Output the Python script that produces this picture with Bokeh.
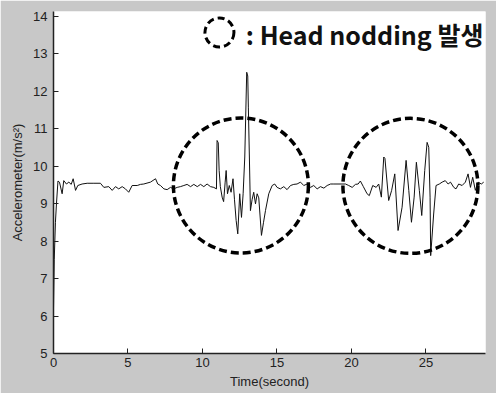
from bokeh.plotting import figure
from bokeh.models import Range1d, FixedTicker
from bokeh.core.properties import value
from bokeh.embed import file_html
from bokeh.resources import INLINE

# ---- data ----
time_s = [0.00, 0.05, 0.13, 0.20, 0.30, 0.40, 0.58, 0.69, 0.87, 1.03, 1.19, 1.32, 1.48, 1.63,
          1.92, 2.26, 2.71, 3.15, 3.38, 3.71, 3.94, 4.16, 4.38, 4.61, 4.83, 5.05, 5.28, 5.62,
          5.84, 6.06, 6.51, 6.85, 7.00, 7.18, 7.41, 7.63, 7.85, 8.07, 8.30, 8.52, 8.75, 8.97,
          9.20, 9.42, 9.65, 9.87, 10.09, 10.31, 10.54, 10.76, 10.94,
          10.98, 11.06, 11.12, 11.20, 11.32, 11.42, 11.52, 11.59, 11.68, 11.80, 11.92, 12.05,
          12.15, 12.26, 12.37, 12.50, 12.62, 12.73, 12.84, 12.97, 13.04, 13.08, 13.15, 13.22,
          13.33, 13.44, 13.56, 13.67, 13.78, 13.96, 14.10, 14.23, 14.45, 14.68,
          14.85, 15.01, 15.23, 15.46, 15.68, 15.91, 16.13, 16.35, 16.58, 16.80, 17.03, 17.25,
          17.47, 17.70, 17.92, 18.15, 18.37, 18.60, 18.82, 19.60, 19.82, 20.05, 20.27,
          20.45, 20.60, 20.80, 21.05, 21.20, 21.43, 21.66, 21.83, 22.01, 22.17, 22.25, 22.50,
          22.70, 22.91, 23.13, 23.40, 23.67, 23.85, 24.03, 24.21, 24.36, 24.56, 24.72, 24.92,
          25.08, 25.19, 25.28, 25.32, 25.52, 25.68, 25.90, 26.09, 26.30, 26.49, 26.65, 26.87,
          27.02, 27.20, 27.43, 27.65, 27.83, 27.99, 28.14, 28.32, 28.50, 28.72, 28.88]
accel = [6.2, 7.5, 8.5, 9.0, 9.6, 9.57, 9.26, 9.61, 9.52, 9.57, 9.51, 9.66, 9.35, 9.48,
         9.52, 9.54, 9.54, 9.54, 9.43, 9.45, 9.35, 9.45, 9.39, 9.45, 9.39, 9.30, 9.48, 9.48,
         9.51, 9.52, 9.57, 9.66, 9.52, 9.48, 9.39, 9.37, 9.43, 9.39, 9.43, 9.45, 9.48, 9.51,
         9.45, 9.51, 9.45, 9.51, 9.45, 9.52, 9.45, 9.43, 9.39,
         10.68, 10.62, 9.88, 9.45, 9.17, 9.05, 9.55, 9.88, 9.26, 9.48, 9.30, 9.66,
         9.10, 8.55, 8.19, 9.26, 8.63, 9.26, 10.24, 12.50, 12.40, 11.57, 10.24, 8.81,
         9.10, 9.30, 8.99, 9.26, 9.15, 8.15, 8.50, 8.81, 9.26, 9.48,
         9.52, 9.43, 9.39, 9.45, 9.37, 9.48, 9.51, 9.52, 9.57, 9.48, 9.52, 9.43,
         9.48, 9.39, 9.45, 9.41, 9.48, 9.52, 9.52, 9.52, 9.48, 9.43, 9.51,
         9.52, 9.60, 9.45, 9.26, 9.21, 9.48, 9.43, 9.52, 9.17, 10.24, 10.20, 9.08,
         9.35, 9.79, 8.28, 8.90, 10.15, 9.35, 8.50, 9.17, 10.10, 9.35, 8.68, 9.88,
         10.63, 10.50, 9.17, 7.61, 8.72, 9.48, 9.52, 9.57, 9.61, 9.52, 9.57, 9.43,
         9.39, 9.52, 9.48, 9.57, 9.79, 9.43, 9.70, 9.35, 9.57, 9.52, 9.57]

x_ticks = [0, 5, 10, 15, 20, 25]
y_ticks = [5, 6, 7, 8, 9, 10, 11, 12, 13, 14]

# highlighted head-nodding episodes (centres, in data units)
episode_t = [12.58, 23.96]
episode_a = [9.48, 9.47]
legend_icon_t = [11.14]
legend_icon_a = [13.56]
legend_text = [": Head nodding 발생"]
legend_text_t = [28.86]
legend_text_a = [13.53]

GRAY = "#c8c8c8"

p = figure(width=496, height=393, output_backend="svg", toolbar_location=None,
           x_range=Range1d(0, 29), y_range=Range1d(5, 14.12),
           min_border_left=53, min_border_right=11, min_border_top=11, min_border_bottom=40)
p.border_fill_color = GRAY
p.background_fill_color = "white"
p.outline_line_color = None
p.grid.visible = False

p.line(time_s, accel, line_color="#111111", line_width=1)

p.scatter(episode_t, episode_a, marker="circle", size=135, fill_color=None,
          line_color="black", line_width=3.5, line_dash="8 4")
p.scatter(legend_icon_t, legend_icon_a, marker="circle", size=29, fill_color=None,
          line_color="black", line_width=3, line_dash="7 4")
p.text(legend_text_t, legend_text_a, text=legend_text,
       text_font=value("Noto Sans CJK KR"), text_font_style="bold",
       text_font_size="25px", text_align="right", text_baseline="middle",
       text_color="#111111")

p.xaxis.ticker = FixedTicker(ticks=x_ticks)
p.yaxis.ticker = FixedTicker(ticks=y_ticks)
p.xaxis.axis_label = "Time(second)"
p.yaxis.axis_label = "Accelerometer(m/s²)"
for ax in (p.xaxis, p.yaxis):
    ax.axis_line_color = "#222222"
    ax.axis_line_width = 1.5
    ax.major_tick_line_color = "#222222"
    ax.major_tick_in = 5
    ax.major_tick_out = 0
    ax.minor_tick_in = 0
    ax.minor_tick_out = 0
    ax.major_label_text_font = "Liberation Sans"
    ax.major_label_text_font_size = "13px"
    ax.major_label_text_color = "#222222"
    ax.axis_label_text_font = "Liberation Sans"
    ax.axis_label_text_font_size = "13px"
    ax.axis_label_text_font_style = "normal"
    ax.axis_label_text_color = "#222222"
p.xaxis.major_label_standoff = 4
p.xaxis.axis_label_standoff = 4
p.yaxis.major_label_standoff = 6
p.yaxis.axis_label_standoff = 5

open("out.html", "w").write(file_html(p, INLINE))
